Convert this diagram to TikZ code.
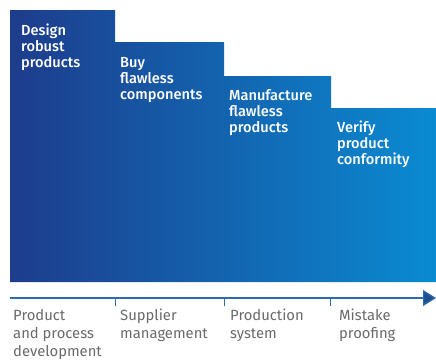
\documentclass[tikz,border=0pt]{standalone}
\usepackage{fontspec}
\setmainfont{Fira Sans}
\newfontfamily\medFont{Fira Sans Medium}
\usepackage{tikz}
\usetikzlibrary{arrows.meta}
\usepackage{xcolor}
\definecolor{stepDark}{HTML}{1D3C8C}
\definecolor{stepMid}{HTML}{0058A6}
\definecolor{stepLight}{HTML}{0A8BD2}
\definecolor{axisBlue}{HTML}{2C6CAA}
\definecolor{arrowBlue}{HTML}{1B4F92}
\definecolor{labelGray}{HTML}{6A6A6A}

\begin{document}
\begin{tikzpicture}
		[x=1pt,y=-1pt,
		stepText/.style={anchor=north west,inner sep=0pt,align=left,text=white,
			font=\medFont\fontsize{14.6}{16}\selectfont},%
		phaseText/.style={anchor=north west,inner sep=0pt,align=left,text=labelGray,
			font=\fontsize{14.8}{18}\selectfont},%
		axisLine/.style={draw=axisBlue,line width=1.2pt},%
		tickLine/.style={draw=axisBlue,line width=1pt}]
		\useasboundingbox (0,0) rectangle (436,360);
		%% staircase
		\shade[left color=stepDark,middle color=stepMid,right color=stepLight]
			(10,10) -- (115,10) -- (115,42) -- (224,42) -- (224,76) -- (331,76)
			-- (331,108) -- (436,108) -- (436,282) -- (10,282) -- cycle;
		%% step labels
		\foreach \nodename/\x/\y/\txt in {
			design/21/24/{Design\\robust\\products},
			buy/120/57/{Buy\\flawless\\components},
			make/229/89/{Manufacture\\flawless\\products},
			verify/337/121/{Verify\\product\\conformity}}
		{
			\node (\nodename) at (\x,\y) [stepText] {\txt};
		}
		%% axis and ticks
		\coordinate (axisStart) at (10,298);
		\coordinate (axisEnd) at (436,298);
		\draw[axisLine,-{Triangle[length=13pt,width=16pt,fill=arrowBlue]}] (axisStart) -- (axisEnd);
		\foreach \tickname/\x in {tickA/115, tickB/224, tickC/330}
		{
			\coordinate (\tickname) at (\x,298);
			\draw[tickLine] (\tickname) -- ++(0,8);
		}
		%% phase labels
		\foreach \nodename/\x/\txt in {
			dev/13/{Product\\and process\\development},
			supplier/120/{Supplier\\management},
			production/230/{Production\\system},
			mistake/339/{Mistake\\proofing}}
		{
			\node (\nodename) at (\x,309) [phaseText] {\txt};
		}
	\end{tikzpicture}
\end{document}
